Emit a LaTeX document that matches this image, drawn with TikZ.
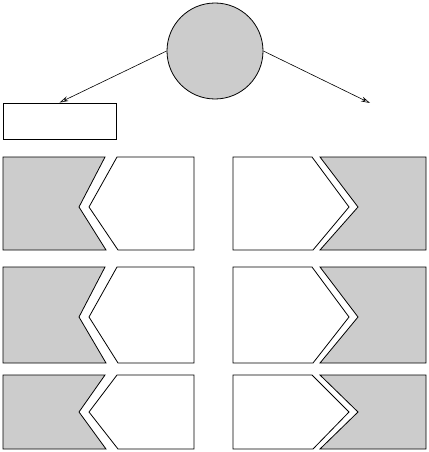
\documentclass[tikz,border=0pt]{standalone}
\usetikzlibrary{arrows.meta, positioning, calc}

% one left-hand pair: grey block with notch, white block with point
\newcommand{\leftpair}[3]{
  % #1 top, #2 bottom, #3 notch height
  \draw[shadeblock] (3, #1) -- (105, #1) -- (79, #3) -- (106, #2) -- (3, #2) -- cycle;
  \draw[plainblock] (117, #1) -- (194, #1) -- (194, #2) -- (118, #2) -- (89, #3) -- cycle;
}

% one right-hand pair: white block with point, grey block with notch
\newcommand{\rightpair}[3]{
  \draw[plainblock] (233, #1) -- (312, #1) -- (349, #3) -- (313, #2) -- (233, #2) -- cycle;
  \draw[shadeblock] (320, #1) -- (426, #1) -- (426, #2) -- (320, #2) -- (358, #3) -- cycle;
}

\begin{document}
\begin{tikzpicture}[
  x=1pt, y=-1pt,
  line width=0.8pt,
  shadeblock/.style={draw=black, fill=black!20, line join=miter},
  plainblock/.style={draw=black, fill=white, line join=miter},
  rootnode/.style={circle, draw, fill=black!20, minimum size=96pt, inner sep=0pt},
  leafbox/.style={rectangle, draw, minimum width=113pt, minimum height=36pt, inner sep=0pt},
  branch/.style={-{Stealth[open, length=9pt, width=5pt]}, line width=0.6pt}
  ]
  \useasboundingbox (0, 0) rectangle (428, 452);

  % top of the tree
  \node[rootnode] (root) at (215, 51) {};
  \node[leafbox] (leaf) at (59.5, 121) {};
  \coordinate (rightend) at (370, 103);

  \draw[branch] (root.west) -- (leaf.north);
  \draw[branch] (root.east) -- (rightend);

  % the three rows of block pairs
  \foreach \top/\bot/\mid in {157/250/207, 267/363/317, 375/449/412}{
    \leftpair{\top}{\bot}{\mid}
    \rightpair{\top}{\bot}{\mid}
  }

\end{tikzpicture}
\end{document}
